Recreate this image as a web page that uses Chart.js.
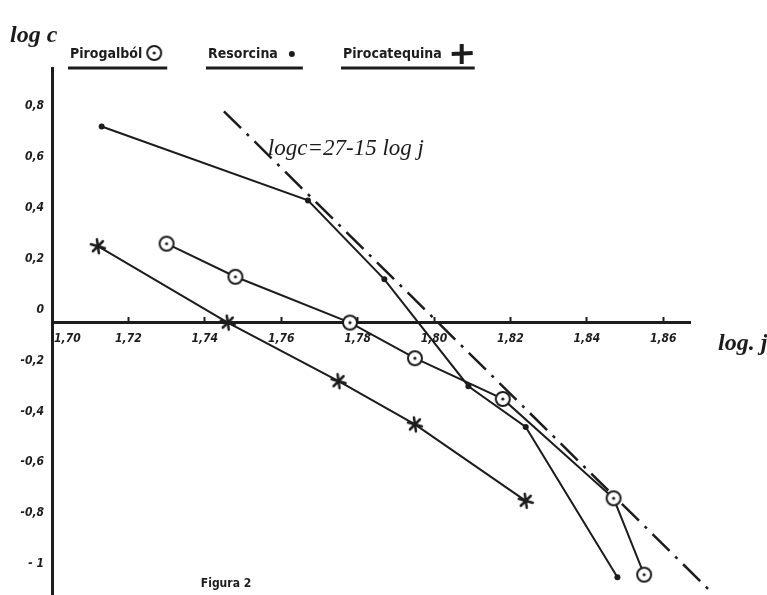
<!DOCTYPE html>
<html><head><meta charset="utf-8">
<script src="https://cdn.jsdelivr.net/npm/chart.js@4.4.1/dist/chart.umd.min.js"></script>
<style>html,body{margin:0;padding:0;background:#fff;}canvas{display:block;}</style>
</head><body>
<canvas id="c" width="767" height="595"></canvas>
<script>
// ---- data ----
const seriesNames = ['Pirogalból', 'Resorcina', 'Pirocatequina'];
const pirogalX = [1.730, 1.748, 1.778, 1.795, 1.818, 1.847, 1.855];
const pirogalY = [0.31, 0.18, 0.00, -0.14, -0.30, -0.69, -0.99];
const resorX   = [1.713, 1.767, 1.787, 1.809, 1.824, 1.848];
const resorY   = [0.77, 0.48, 0.17, -0.25, -0.41, -1.00];
const catX     = [1.712, 1.746, 1.775, 1.795, 1.824];
const catY     = [0.30, 0.00, -0.23, -0.40, -0.70];
const fitX     = [1.745, 1.872];
const fitY     = [0.83, -1.05];
const fitLabel = 'logc=27-15 log j';
const xTickValues = [1.70, 1.72, 1.74, 1.76, 1.78, 1.80, 1.82, 1.84, 1.86];
const xTickLabels = ['\u2003\u2003\u2002 1,70', '1,72', '1,74', '1,76', '1,78', '1,80', '1,82', '1,84', '1,86'];
const yTickValues = [0.8, 0.6, 0.4, 0.2, 0, -0.2, -0.4, -0.6, -0.8, -1];
const yTickLabels = ['0,8', '0,6', '0,4', '0,2', '0', '-0,2', '-0,4', '-0,6', '-0,8', '- 1'];
const yTitle = 'log c';
const xTitle = 'log. j';
const figureCaption = 'Figura 2';

// ---- styling ----
const ink = '#1c1c1c';
const tickFont = {family: "'DejaVu Sans Condensed','DejaVu Sans',sans-serif", size: 12, style: 'italic', weight: 'bold'};
function pts(xs, ys) { return xs.map((x, i) => ({x: x, y: ys[i]})); }
const circleDot = (() => {
  const c = document.createElement('canvas'); c.width = c.height = 20;
  const g = c.getContext('2d');
  g.fillStyle = '#fff'; g.strokeStyle = ink; g.lineWidth = 2;
  g.beginPath(); g.arc(10, 10, 7, 0, Math.PI * 2); g.fill(); g.stroke();
  g.fillStyle = ink; g.beginPath(); g.arc(10, 10, 1.6, 0, Math.PI * 2); g.fill();
  return c;
})();
const starMark = (() => {
  const c = document.createElement('canvas'); c.width = c.height = 20;
  const g = c.getContext('2d');
  g.strokeStyle = ink; g.lineWidth = 2.5; g.lineCap = 'round';
  g.beginPath();
  g.moveTo(3, 8); g.lineTo(17, 12);
  g.moveTo(9, 3); g.lineTo(11, 17);
  g.moveTo(5, 15); g.lineTo(15, 5);
  g.stroke();
  return c;
})();

const annotations = {
  id: 'annotations',
  afterDraw(chart) {
    const ctx = chart.ctx;
    const xs = chart.scales.x, ys = chart.scales.y;
    ctx.save();
    ctx.fillStyle = ink; ctx.strokeStyle = ink;
    // axis titles
    ctx.font = "italic bold 24px 'Liberation Serif', serif";
    ctx.textAlign = 'left'; ctx.textBaseline = 'alphabetic';
    ctx.fillText(yTitle, 10, 42);
    ctx.fillText(xTitle, 718, 350);
    // fitted line label
    ctx.font = "italic 23px 'Liberation Serif', serif";
    ctx.fillText(fitLabel, xs.getPixelForValue(1.7565), ys.getPixelForValue(0.66));
    // caption
    ctx.font = "bold 12px 'DejaVu Sans Condensed','DejaVu Sans',sans-serif";
    ctx.textAlign = 'center';
    ctx.fillText(figureCaption, 226, 587);
    // legend
    ctx.textAlign = 'left';
    ctx.font = "bold 14px 'DejaVu Sans Condensed','DejaVu Sans',sans-serif";
    const starts = [70, 208, 343];
    seriesNames.forEach((name, i) => {
      const x0 = starts[i];
      ctx.fillStyle = ink;
      ctx.fillText(name, x0, 58);
      const w = ctx.measureText(name).width;
      let mx = x0 + w + 12;
      if (i === 0) {
        ctx.drawImage(circleDot, mx - 10, 53 - 10);
      } else if (i === 1) {
        ctx.beginPath(); ctx.arc(mx + 2, 54, 3, 0, Math.PI * 2); ctx.fill();
      } else {
        mx += 8;
        ctx.lineWidth = 4;
        ctx.beginPath(); ctx.moveTo(mx - 10, 54); ctx.lineTo(mx + 11, 53);
        ctx.moveTo(mx, 44); ctx.lineTo(mx, 64); ctx.stroke();
      }
      ctx.lineWidth = 3;
      ctx.beginPath(); ctx.moveTo(x0 - 2, 68); ctx.lineTo(mx + 13, 68); ctx.stroke();
    });
    ctx.restore();
  }
};

new Chart(document.getElementById('c'), {
  type: 'scatter',
  data: {
    datasets: [
      {label: 'fit', data: pts(fitX, fitY), showLine: true, borderColor: ink, borderWidth: 2.5,
       borderDash: [24, 8, 3, 8], pointRadius: 0, clip: false, order: 4},
      {label: seriesNames[1], data: pts(resorX, resorY), showLine: true, borderColor: ink, borderWidth: 2,
       pointStyle: 'circle', pointRadius: 3, pointBackgroundColor: ink, pointBorderWidth: 0, order: 3},
      {label: seriesNames[2], data: pts(catX, catY), showLine: true, borderColor: ink, borderWidth: 2,
       pointStyle: starMark, pointRadius: 8, order: 2},
      {label: seriesNames[0], data: pts(pirogalX, pirogalY), showLine: true, borderColor: ink, borderWidth: 2,
       pointStyle: circleDot, pointRadius: 8, order: 1}
    ]
  },
  options: {
    responsive: false, animation: false, devicePixelRatio: 1,
    layout: {autoPadding: false, padding: {top: 68, right: 77, left: 0, bottom: 0}},
    plugins: {legend: {display: false}, tooltip: {enabled: false}},
    scales: {
      x: {
        type: 'linear', min: 1.70, max: 1.867, position: {y: 0},
        afterFit(s) { s.height = 0; s.paddingLeft = 0; s.paddingRight = 0; s.paddingTop = 0; s.paddingBottom = 0; },
        afterBuildTicks(s) { s.ticks = xTickValues.map(v => ({value: v})); },
        grid: {drawOnChartArea: false, drawTicks: true, tickLength: -7, tickWidth: 2, tickColor: ink},
        border: {display: true, color: ink, width: 3},
        ticks: {autoSkip: false, maxRotation: 0, padding: 16, color: ink, font: tickFont,
                callback: (v, i) => xTickLabels[i]}
      },
      y: {
        type: 'linear', min: -1.07, max: 1.0, position: 'left',
        afterFit(s) { s.width = 52; s.paddingTop = 0; s.paddingBottom = 0; s.paddingLeft = 0; s.paddingRight = 0; },
        afterBuildTicks(s) { s.ticks = yTickValues.map(v => ({value: v})); },
        grid: {drawOnChartArea: false, drawTicks: false},
        border: {display: true, color: ink, width: 3},
        ticks: {autoSkip: false, padding: 8, labelOffset: -13, color: ink, font: tickFont,
                callback: (v, i) => yTickLabels[i]}
      }
    }
  },
  plugins: [annotations]
});
</script>
</body></html>
